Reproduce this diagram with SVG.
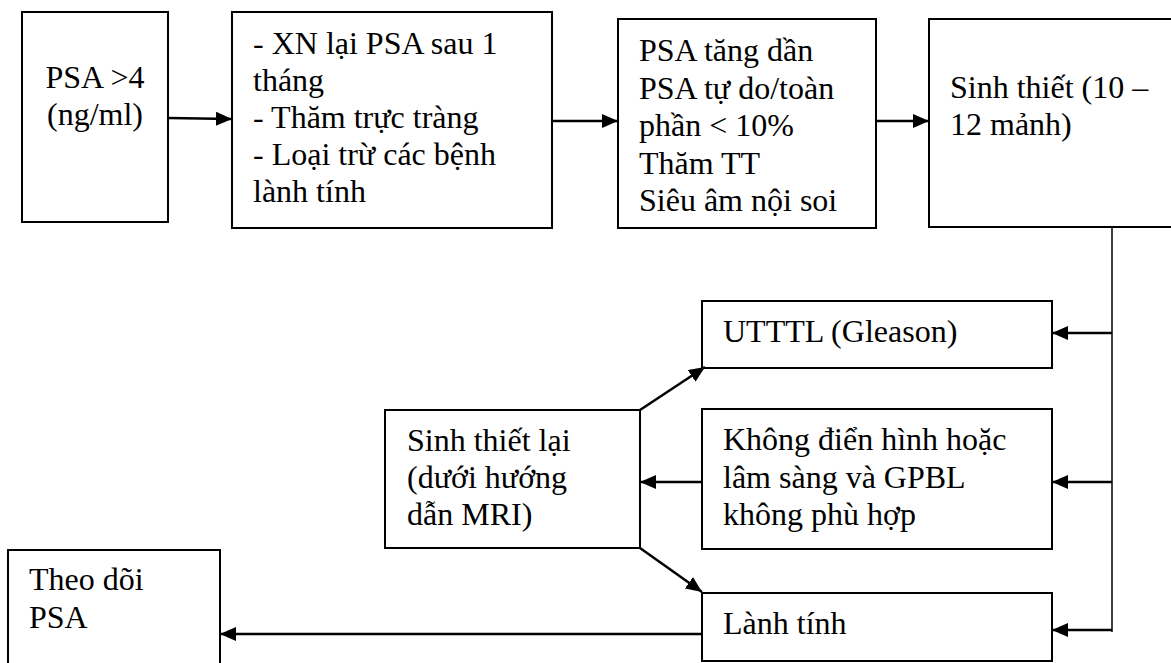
<svg xmlns="http://www.w3.org/2000/svg" width="1171" height="663" viewBox="0 0 1171 663">
<style>
.box{fill:#fff;stroke:#000;stroke-width:2}
.t{font-family:"Liberation Serif","Times New Roman",serif;font-size:32px;fill:#000}
.c{fill:none;stroke:#000;stroke-width:2.5}
.thin{fill:none;stroke:#000;stroke-width:1.5}
</style>
<defs>
<marker id="ah" markerWidth="16" markerHeight="14" refX="16" refY="7" orient="auto" markerUnits="userSpaceOnUse">
<path d="M0,0 L16,7 L0,14 Z" fill="#000"/>
</marker>
</defs>
<rect width="1171" height="663" fill="#fff"/>
<g id="n1"><rect class="box" x="22" y="12" width="146" height="210"/>
<text class="t" text-anchor="middle"><tspan x="95" y="88">PSA &gt;4</tspan><tspan x="95" y="125">(ng/ml)</tspan></text></g>
<g id="n2"><rect class="box" x="232" y="12" width="320" height="216"/>
<text class="t"><tspan x="253" y="54">- XN lại PSA sau 1</tspan><tspan x="253" y="91">tháng</tspan><tspan x="253" y="128">- Thăm trực tràng</tspan><tspan x="253" y="165">- Loại trừ các bệnh</tspan><tspan x="253" y="202">lành tính</tspan></text></g>
<g id="n3"><rect class="box" x="618" y="19" width="258" height="209"/>
<text class="t"><tspan x="639" y="61">PSA tăng dần</tspan><tspan x="639" y="98.5">PSA tự do/toàn</tspan><tspan x="639" y="136">phần &lt; 10%</tspan><tspan x="639" y="173.5">Thăm TT</tspan><tspan x="639" y="211">Siêu âm nội soi</tspan></text></g>
<g id="n4"><rect class="box" x="929" y="19" width="260" height="208"/>
<text class="t"><tspan x="950" y="98">Sinh thiết (10 –</tspan><tspan x="950" y="135">12 mảnh)</tspan></text></g>
<g id="n5"><rect class="box" x="702" y="301" width="350" height="67"/>
<text class="t" x="723" y="342">UTTTL (Gleason)</text></g>
<g id="n6"><rect class="box" x="702" y="409" width="350" height="140"/>
<text class="t"><tspan x="723" y="450">Không điển hình hoặc</tspan><tspan x="723" y="488">lâm sàng và GPBL</tspan><tspan x="723" y="525">không phù hợp</tspan></text></g>
<g id="n7"><rect class="box" x="385" y="410" width="255" height="138"/>
<text class="t"><tspan x="407" y="451">Sinh thiết lại</tspan><tspan x="407" y="488">(dưới hướng</tspan><tspan x="407" y="525">dẫn MRI)</tspan></text></g>
<g id="n8"><rect class="box" x="702" y="593" width="350" height="68"/>
<text class="t" x="723" y="634">Lành tính</text></g>
<g id="n9"><rect class="box" x="8" y="550" width="212" height="130"/>
<text class="t"><tspan x="29" y="590">Theo dõi</tspan><tspan x="29" y="628">PSA</tspan></text></g>
<g id="connectors">
<line class="c" x1="168" y1="118" x2="232" y2="119" marker-end="url(#ah)"/>
<line class="c" x1="552" y1="121" x2="618" y2="121" marker-end="url(#ah)"/>
<line class="c" x1="876" y1="121" x2="929" y2="121" marker-end="url(#ah)"/>
<polyline class="thin" points="1112,227 1112,632"/>
<line class="c" x1="1112" y1="333" x2="1052" y2="333" marker-end="url(#ah)"/>
<line class="c" x1="1112" y1="482" x2="1052" y2="482" marker-end="url(#ah)"/>
<line class="c" x1="1112" y1="630" x2="1052" y2="630" marker-end="url(#ah)"/>
<line class="c" x1="702" y1="482" x2="640" y2="482" marker-end="url(#ah)"/>
<line class="c" x1="640" y1="410" x2="705" y2="367" marker-end="url(#ah)"/>
<line class="c" x1="640" y1="548" x2="702" y2="592" marker-end="url(#ah)"/>
<line class="c" x1="702" y1="634" x2="220" y2="634" marker-end="url(#ah)"/>
</g>
</svg>
